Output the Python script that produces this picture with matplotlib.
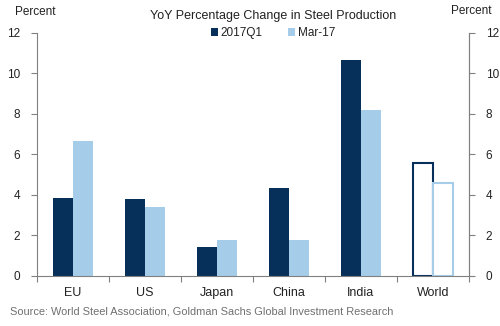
import numpy as np
import matplotlib.pyplot as plt

plt.rcParams['font.family'] = ['Liberation Sans', 'DejaVu Sans']

regions = ["EU", "US", "Japan", "China", "India", "World"]
q1_2017 = [3.85, 3.8, 1.45, 4.33, 10.67, 5.6]
mar_17 = [6.67, 3.42, 1.78, 1.78, 8.2, 4.6]
yticks = [0, 2, 4, 6, 8, 10, 12]

dark = "#06305A"
light = "#A5CDEA"
axis_col = "#808080"
text_col = "#222222"

fig = plt.figure(figsize=(5, 3.26), dpi=100)
ax = fig.add_axes([0.074, 0.1534, 0.864, 0.7454])

x = np.arange(len(regions))
w = 0.28
n = len(regions)
# solid bars for the regions, outlined bars for the world total
ax.bar(x[:-1] - w / 2, q1_2017[:-1], w, color=dark, label="2017Q1")
ax.bar(x[:-1] + w / 2, mar_17[:-1], w, color=light, label="Mar-17")
ax.bar(x[-1] - w / 2, q1_2017[-1], w, facecolor="white", edgecolor=dark, linewidth=1.5)
ax.bar(x[-1] + w / 2, mar_17[-1], w, facecolor="white", edgecolor=light, linewidth=1.5)

ax.set_xlim(-0.5, n - 0.5)
ax.set_ylim(0, 12)
ax.set_yticks(yticks)
ax.set_xticks(np.arange(-0.5, n, 1.0))
ax.set_xticklabels([])
ax.set_xticks(x, minor=True)
ax.set_xticklabels(regions, minor=True, fontsize=9, color=text_col)
ax.tick_params(axis="x", which="minor", length=0, pad=8)
ax.tick_params(axis="x", which="major", length=4, color=axis_col, direction="out")
ax.tick_params(axis="y", length=4, color=axis_col, labelsize=8.5, labelcolor=text_col, pad=8)

ax.spines["top"].set_visible(False)
for s in ["left", "right", "bottom"]:
    ax.spines[s].set_color(axis_col)
    ax.spines[s].set_linewidth(0.8)
    ax.spines[s].set_zorder(5)

ax2 = ax.twinx()
ax2.set_ylim(0, 12)
ax2.set_yticks(yticks)
ax2.tick_params(axis="y", length=4, color=axis_col, labelsize=8.5, labelcolor=text_col, pad=8)
ax2.spines["top"].set_visible(False)
ax2.spines["left"].set_visible(False)
ax2.spines["bottom"].set_visible(False)
ax2.spines["right"].set_color(axis_col)
ax2.spines["right"].set_linewidth(0.8)

fig.text(0.03, 0.962, "Percent", fontsize=8.5, color=text_col, va="center", ha="left")
fig.text(0.982, 0.965, "Percent", fontsize=8.5, color=text_col, va="center", ha="right")
fig.text(0.546, 0.952, "YoY Percentage Change in Steel Production", fontsize=9,
         color=text_col, va="center", ha="center")
ax.legend(loc="center", bbox_to_anchor=(0.546, 1.0), ncol=2, frameon=False,
          fontsize=8.5, handlelength=0.6, handleheight=0.6, handletextpad=0.2,
          columnspacing=2.2, borderaxespad=0, borderpad=0, labelcolor=text_col)
fig.text(0.02, 0.043, "Source: World Steel Association, Goldman Sachs Global Investment Research",
         fontsize=7.9, color="#707070", va="center", ha="left")

fig.savefig("out.png", dpi=100)
